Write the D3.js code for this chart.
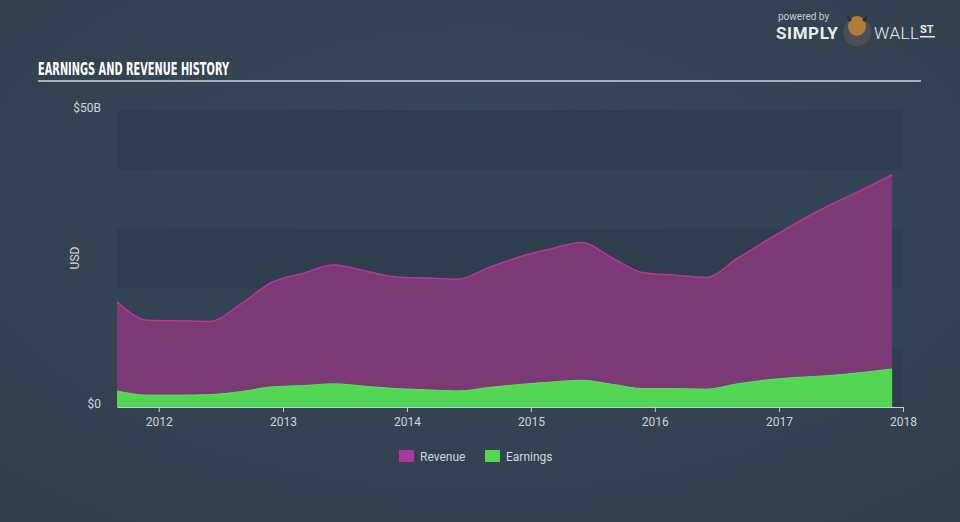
<!DOCTYPE html>
<html><head><meta charset="utf-8">
<script src="https://cdn.jsdelivr.net/npm/d3@7"></script>
<style>html,body{margin:0;padding:0;background:#344352;}svg{display:block;}</style>
</head><body>
<svg id="chart" width="960" height="522"></svg>
<script>
// ---- data (USD billions), quarterly, trailing values ----
const dates = ["2011-08-31","2011-11-30","2012-02-29","2012-05-31","2012-08-31","2012-11-30",
  "2013-02-28","2013-05-31","2013-08-31","2013-11-30","2014-02-28","2014-05-31","2014-08-31",
  "2014-11-30","2015-02-28","2015-05-31","2015-08-31","2015-11-30","2016-02-29","2016-05-31",
  "2016-08-31","2016-11-30","2017-02-28","2017-05-31","2017-08-31","2017-11-30"];
const revenue = [17.7,14.6,14.5,14.4,17.4,21.0,22.5,23.9,22.9,21.9,21.7,21.5,23.5,25.3,26.6,27.7,
  25.0,22.6,22.2,21.8,25.0,28.2,31.2,34.0,36.5,39.1];
const earnings = [2.7,2.0,2.0,2.1,2.6,3.4,3.6,3.9,3.5,3.1,2.9,2.7,3.3,3.8,4.2,4.5,3.8,3.1,3.1,3.0,
  3.9,4.6,5.0,5.3,5.8,6.4];
const yTickLabels = ["$0","$50B"];
const xTickYears = [2012,2013,2014,2015,2016,2017,2018];
const seriesNames = ["Revenue","Earnings"];

const svg = d3.select("#chart");
const W = 960, H = 522;
const defs = svg.append("defs");
const rg = defs.append("radialGradient").attr("id","bg").attr("cx","50%").attr("cy","40%").attr("r","70%");
rg.append("stop").attr("offset","0%").attr("stop-color","#37495a");
rg.append("stop").attr("offset","100%").attr("stop-color","#323f4d");
svg.append("rect").attr("width",W).attr("height",H).attr("fill","url(#bg)");

const parse = d3.timeParse("%Y-%m-%d");
const data = dates.map((d,i)=>({date:parse(d), rev:revenue[i], earn:earnings[i]}));

const x = d3.scaleTime().domain([parse("2011-08-31"), parse("2018-01-01")]).range([117, 903]);
const y = d3.scaleLinear().domain([0,50]).range([407,110]);

// bands
const bands = d3.range(0,50,10);
svg.append("g").selectAll("rect").data(bands).join("rect")
  .attr("x",117).attr("width",785)
  .attr("y",d=>y(d+10)).attr("height",d=>y(d)-y(d+10))
  .attr("fill",(d,i)=> (i%2===0) ? "#2f3d4c" : "#344454")
  .attr("opacity",0.9);

const curve = d3.curveMonotoneX;
const areaRev = d3.area().x(d=>x(d.date)).y0(y(0)).y1(d=>y(d.rev)).curve(curve);
const lineRev = d3.line().x(d=>x(d.date)).y(d=>y(d.rev)).curve(curve);
const areaEarn = d3.area().x(d=>x(d.date)).y0(y(0)).y1(d=>y(d.earn)).curve(curve);
const lineEarn = d3.line().x(d=>x(d.date)).y(d=>y(d.earn)).curve(curve);

svg.append("path").datum(data).attr("d",areaRev).attr("fill","#7b3975");
svg.append("path").datum(data).attr("d",lineRev).attr("fill","none").attr("stroke","#b8379f").attr("stroke-width",1.5);
svg.append("path").datum(data).attr("d",areaEarn).attr("fill","#52d654");
svg.append("path").datum(data).attr("d",lineEarn).attr("fill","none").attr("stroke","#5ee05f").attr("stroke-width",1);

// x axis
const xAxis = d3.axisBottom(x)
  .tickValues(xTickYears.map(yv=>new Date(yv,0,1)))
  .tickFormat(d3.timeFormat("%Y")).tickSize(5).tickSizeOuter(0);
const gx = svg.append("g").attr("transform","translate(0,407)").call(xAxis);
gx.select(".domain").attr("stroke","#c9ced4").attr("stroke-width",1.2);
gx.selectAll(".tick line").attr("stroke","#c9ced4");
gx.selectAll("text").attr("fill","#d2d6db").attr("font-family","Roboto, sans-serif").attr("font-size",12).attr("dy","0.9em");

// y labels
svg.append("g").selectAll("text").data([0,50]).join("text")
  .attr("x",101).attr("y",d=>y(d)+ (d===0?1:2))
  .attr("text-anchor","end").attr("fill","#d2d6db")
  .attr("font-family","Roboto, sans-serif").attr("font-size",12)
  .text((d,i)=>yTickLabels[i]);
svg.append("text").attr("transform","translate(79,258) rotate(-90)")
  .attr("text-anchor","middle").attr("fill","#d2d6db")
  .attr("font-family","Roboto, sans-serif").attr("font-size",12).text("USD");

// title
svg.append("text").attr("x",38).attr("y",75)
  .attr("fill","#ffffff").attr("font-family","'Liberation Sans Narrow', 'DejaVu Sans Condensed', sans-serif")
  .attr("font-weight","bold").attr("font-size",18)
  .attr("textLength",191).attr("lengthAdjust","spacingAndGlyphs")
  .text("EARNINGS AND REVENUE HISTORY");
svg.append("rect").attr("x",38).attr("y",80).attr("width",883).attr("height",2).attr("fill","#a9afb6");

// legend
const legColors = ["#a8399a","#52d654"];
const legX = [399,485];
const lg = svg.append("g");
seriesNames.forEach((n,i)=>{
  lg.append("rect").attr("x",legX[i]).attr("y",450).attr("width",15).attr("height",12).attr("fill",legColors[i]);
  lg.append("text").attr("x",legX[i]+21).attr("y",460.5).attr("fill","#d2d6db")
    .attr("font-family","Roboto, sans-serif").attr("font-size",12).text(n);
});

// logo
const lo = svg.append("g");
lo.append("text").attr("x",778).attr("y",20).attr("fill","#c8ccd1").attr("font-family","Roboto, sans-serif").attr("font-size",10).text("powered by");
lo.append("text").attr("x",776).attr("y",39).attr("fill","#e9ecef").attr("font-family","Roboto, sans-serif").attr("font-weight","bold").attr("font-size",17).attr("letter-spacing","0.6px").text("SIMPLY");
lo.append("circle").attr("cx",857).attr("cy",32).attr("r",14).attr("fill","#4a4f55");
lo.append("ellipse").attr("cx",857).attr("cy",26).attr("rx",9).attr("ry",10).attr("fill","#b07a3a");
lo.append("path").attr("d","M846,14 L849,22 L852,20 Z M868,14 L865,22 L862,20 Z").attr("fill","#2a2a2a");
lo.append("text").attr("x",874).attr("y",39).attr("fill","#e9ecef").attr("font-family","Roboto, sans-serif").attr("font-weight","300").attr("font-size",17).attr("letter-spacing","0.5px").text("WALL");
lo.append("text").attr("x",920).attr("y",33).attr("fill","#e9ecef").attr("font-family","Roboto, sans-serif").attr("font-weight","bold").attr("font-size",11).text("ST");
lo.append("rect").attr("x",920).attr("y",36).attr("width",15).attr("height",1.5).attr("fill","#e9ecef");
</script>
</body></html>
